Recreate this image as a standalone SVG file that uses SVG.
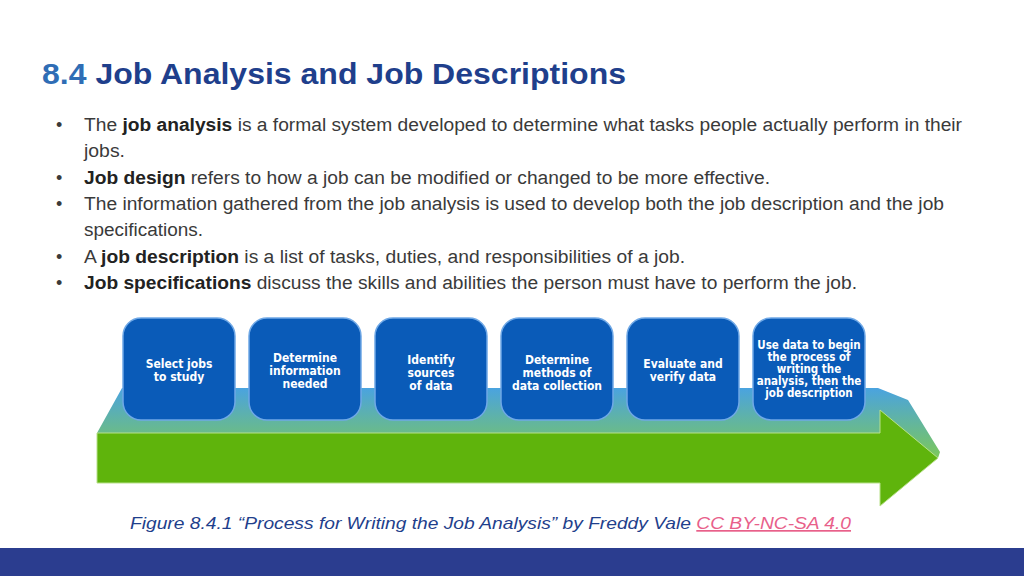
<svg xmlns="http://www.w3.org/2000/svg" width="1024" height="576" viewBox="0 0 1024 576">
<defs>
<style>
.b{font-family:"Liberation Sans",Arial,sans-serif;font-size:18px;fill:#3a3a3a}
.bb{font-weight:bold;fill:#222}
.n{fill:#0a5bb8;stroke:#6fa8e6;stroke-width:1.5}
.t{font-family:"DejaVu Sans Condensed","Open Sans",sans-serif;font-size:12px;font-weight:bold;fill:#fff;text-anchor:middle}
</style>
<linearGradient id="tg" x1="0" y1="0" x2="0" y2="1"><stop offset="0" stop-color="#4aa3e0"/><stop offset="1" stop-color="#7cc85a"/></linearGradient>
</defs>
<rect width="1024" height="576" fill="#fff"/>
<text x="42" y="84" font-family="Liberation Sans,Arial,sans-serif" font-size="29" font-weight="bold" textLength="584" lengthAdjust="spacingAndGlyphs"><tspan fill="#2f6db5">8.4</tspan><tspan fill="#1f3f8c"> Job Analysis and Job Descriptions</tspan></text>
<g class="b">
<text x="56" y="131">•</text><text x="84" y="131" textLength="878" lengthAdjust="spacingAndGlyphs">The <tspan class="bb">job analysis</tspan> is a formal system developed to determine what tasks people actually perform in their</text>
<text x="84" y="157" textLength="41" lengthAdjust="spacingAndGlyphs">jobs.</text>
<text x="56" y="184">•</text><text x="84" y="184" textLength="686" lengthAdjust="spacingAndGlyphs"><tspan class="bb">Job design</tspan> refers to how a job can be modified or changed to be more effective.</text>
<text x="56" y="210">•</text><text x="84" y="210" textLength="860" lengthAdjust="spacingAndGlyphs">The information gathered from the job analysis is used to develop both the job description and the job</text>
<text x="84" y="236" textLength="119" lengthAdjust="spacingAndGlyphs">specifications.</text>
<text x="56" y="263">•</text><text x="84" y="263" textLength="601" lengthAdjust="spacingAndGlyphs">A <tspan class="bb">job description</tspan> is a list of tasks, duties, and responsibilities of a job.</text>
<text x="56" y="289">•</text><text x="84" y="289" textLength="773" lengthAdjust="spacingAndGlyphs"><tspan class="bb">Job specifications</tspan> discuss the skills and abilities the person must have to perform the job.</text>
</g>
<g id="arrow">
<polygon points="97,433 122,388 878,388 908,400 940,452 938,458 880,433" fill="url(#tg)"/>
<polygon points="97,433 880,433 880,410 938,458 880,506 880,483 97,483" fill="#5fb40c" stroke="#b8e08a" stroke-width="1"/>
</g>
<g id="n1"><rect class="n" x="123" y="318" width="112" height="102" rx="18"/><text class="t" x="179" y="368">Select jobs</text><text class="t" x="179" y="381">to study</text></g>
<g id="n2"><rect class="n" x="249" y="318" width="112" height="102" rx="18"/><text class="t" x="305" y="362">Determine</text><text class="t" x="305" y="375">information</text><text class="t" x="305" y="388">needed</text></g>
<g id="n3"><rect class="n" x="375" y="318" width="112" height="102" rx="18"/><text class="t" x="431" y="364">Identify</text><text class="t" x="431" y="377">sources</text><text class="t" x="431" y="390">of data</text></g>
<g id="n4"><rect class="n" x="501" y="318" width="112" height="102" rx="18"/><text class="t" x="557" y="364">Determine</text><text class="t" x="557" y="377">methods of</text><text class="t" x="557" y="390">data collection</text></g>
<g id="n5"><rect class="n" x="627" y="318" width="112" height="102" rx="18"/><text class="t" x="683" y="368">Evaluate and</text><text class="t" x="683" y="381">verify data</text></g>
<g id="n6" style="font-size:11.5px"><rect class="n" x="753" y="318" width="112" height="102" rx="18"/><text class="t" style="font-size:11.5px" x="809" y="349">Use data to begin</text><text class="t" style="font-size:11.5px" x="809" y="361">the process of</text><text class="t" style="font-size:11.5px" x="809" y="373">writing the</text><text class="t" style="font-size:11.5px" x="809" y="385">analysis, then the</text><text class="t" style="font-size:11.5px" x="809" y="397">job description</text></g>
<g id="connectors"/>
<text x="130" y="529" font-family="Liberation Sans,Arial,sans-serif" font-size="17" font-style="italic" fill="#1f3f8c" textLength="721" lengthAdjust="spacingAndGlyphs">Figure 8.4.1 “Process for Writing the Job Analysis” by Freddy Vale <tspan fill="#e8608a" text-decoration="underline">CC BY-NC-SA 4.0</tspan></text>
<rect x="0" y="548" width="1024" height="28" fill="#2b3d8f"/>
</svg>
